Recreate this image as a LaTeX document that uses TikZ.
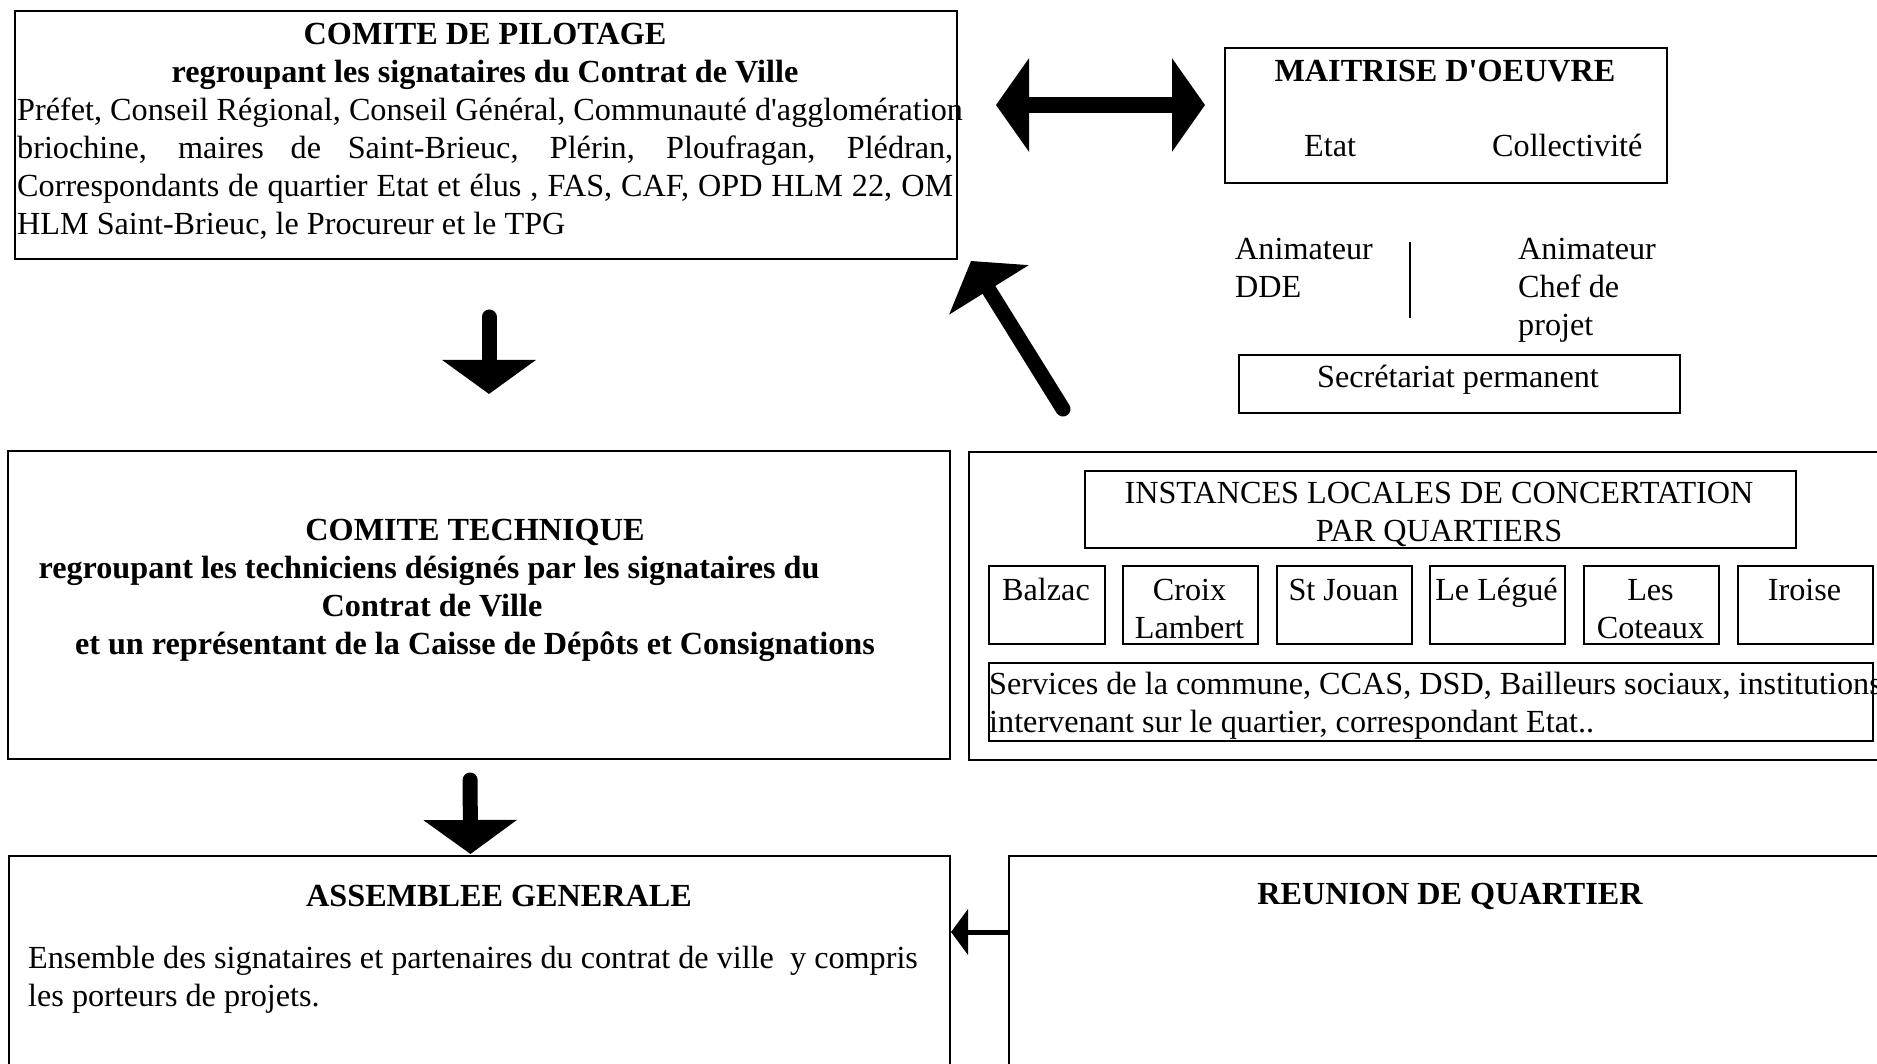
\documentclass[tikz,border=0pt]{standalone}
\usepackage{fontspec}
\setmainfont{Liberation Serif}
\usetikzlibrary{arrows.meta,calc}

\newcommand\diagsize{\fontsize{32.2pt}{38pt}\selectfont}

\begin{document}
\begin{tikzpicture}[x=1pt,y=-1pt,
    box/.style={draw,line width=2pt,anchor=north west,inner sep=0pt},
    txt/.style={inner sep=0pt,font=\diagsize},
    head/.style={inner sep=0pt,font=\diagsize\bfseries},
    fat/.style={line width=15pt,line cap=round,-{Triangle[length=34pt,width=92pt]}}]
  \useasboundingbox (0,0) rectangle (1877,1064);

  % comite de pilotage (base = last line)
  \node[box,minimum width=942pt,minimum height=248pt] (pilotage) at (14,10) {};
  \node[head,anchor=base,align=center] (pilottitle) at (485,83)
    {COMITE DE PILOTAGE\\regroupant les signataires du Contrat de Ville};
  \node[txt,anchor=base west,align=left] (pilotlist) at (17,235)
    {Préfet, Conseil Régional, Conseil Général, Communauté d\textquotesingle agglomération\\
     \makebox[936pt][s]{briochine, maires de Saint-Brieuc, Plérin, Ploufragan, Plédran,}\\
     \makebox[936pt][s]{Correspondants de quartier Etat et élus , FAS, CAF, OPD HLM 22, OM}\\
     HLM Saint-Brieuc, le Procureur et le TPG};

  % maitrise d'oeuvre
  \node[box,minimum width=442pt,minimum height=135pt] (maitrise) at (1224,47) {};
  \node[head,anchor=base] (maititle) at (1445,82) {MAITRISE D\textquotesingle OEUVRE};
  \node[txt,anchor=base west] (etat) at (1304,157) {Etat};
  \node[txt,anchor=base west] (collect) at (1492,157) {Collectivité};

  \node[txt,anchor=base west,align=left] (animdde) at (1235,298) {Animateur\\DDE};
  \node[txt,anchor=base west,align=left] (animchef) at (1518,336) {Animateur\\Chef de\\projet};
  \draw[line width=2pt] (1410,242) -- (1410,318);

  \node[box,minimum width=441pt,minimum height=58pt] (secretariat) at (1238,354) {};
  \node[txt,anchor=base] (secrtext) at (1458,388) {Secrétariat permanent};

  % comite technique
  \node[box,minimum width=942pt,minimum height=308pt] (technique) at (7,450) {};
  \node[head,anchor=base,align=center] (techtext) at (475,654)
    {COMITE TECHNIQUE\\
     regroupant les techniciens désignés par les signataires du\rule{92pt}{0pt}\\
     Contrat de Ville\rule{86pt}{0pt}\\
     et un représentant de la Caisse de Dépôts et Consignations};

  % instances locales
  \node[box,minimum width=912pt,minimum height=308pt] (instances) at (968,451) {};
  \node[box,minimum width=711pt,minimum height=77pt] (institle) at (1084,470) {};
  \node[txt,anchor=base,align=center] (instext) at (1439,541)
    {INSTANCES LOCALES DE CONCERTATION\\PAR QUARTIERS};
  \node[box,minimum width=116pt,minimum height=78pt] (balzac) at (988,565) {};
  \node[box,minimum width=135pt,minimum height=78pt] (croix) at (1122,565) {};
  \node[box,minimum width=135pt,minimum height=78pt] (jouan) at (1276,565) {};
  \node[box,minimum width=135pt,minimum height=78pt] (legue) at (1429,565) {};
  \node[box,minimum width=135pt,minimum height=78pt] (coteaux) at (1583,565) {};
  \node[box,minimum width=135pt,minimum height=78pt] (iroise) at (1737,565) {};
  \node[txt,anchor=base] (tbalzac) at (1046,600) {Balzac};
  \node[txt,anchor=base,align=center] (tcroix) at (1189.5,638) {Croix\\Lambert};
  \node[txt,anchor=base] (tjouan) at (1343.5,600) {St Jouan};
  \node[txt,anchor=base] (tlegue) at (1496.5,600) {Le Légué};
  \node[txt,anchor=base,align=center] (tcoteaux) at (1650.5,638) {Les\\Coteaux};
  \node[txt,anchor=base] (tiroise) at (1804.5,600) {Iroise};
  \node[box,minimum width=884pt,minimum height=78pt] (services) at (988,662) {};
  \node[txt,anchor=base west,align=left] (servtext) at (989,732)
    {Services de la commune, CCAS, DSD, Bailleurs sociaux, institutions\\
     intervenant sur le quartier, correspondant Etat..};

  % assemblee generale et reunion de quartier
  \node[box,minimum width=941pt,minimum height=215pt] (assemblee) at (8,855) {};
  \node[head,anchor=base] (asstitle) at (499,906) {ASSEMBLEE GENERALE};
  \node[txt,anchor=base west,align=left] (asstext) at (28,1006)
    {Ensemble des signataires et partenaires du contrat de ville \ y compris\\
     les porteurs de projets.};
  \node[box,minimum width=880pt,minimum height=215pt] (reunion) at (1008,855) {};
  \node[head,anchor=base] (reutitle) at (1450,904) {REUNION DE QUARTIER};

  % fleches
  \draw[line width=16pt,{Triangle[length=33pt,width=92pt]}-{Triangle[length=33pt,width=92pt]}]
    ([shift={(38,95)}]pilotage.north east) -- ([shift={(-19,58)}]maitrise.north west);
  \draw[fat,shorten <=57pt,shorten >=56pt] ([xshift=3pt]pilotage.south) -- ([xshift=10pt]technique.north);
  \draw[fat,shorten <=20pt,shorten >=1pt] ([xshift=-9pt]technique.south) -- ([xshift=-9pt]assemblee.north);
  \draw[fat] ([shift={(-175,-5)}]secretariat.south west) -- ([shift={(13,1)}]pilotage.south east);
  \draw[line width=5pt,-{Triangle[length=17pt,width=45pt]}]
    ([yshift=31.5pt]reunion.west) -- ([yshift=31.5pt]assemblee.east);
\end{tikzpicture}
\end{document}
